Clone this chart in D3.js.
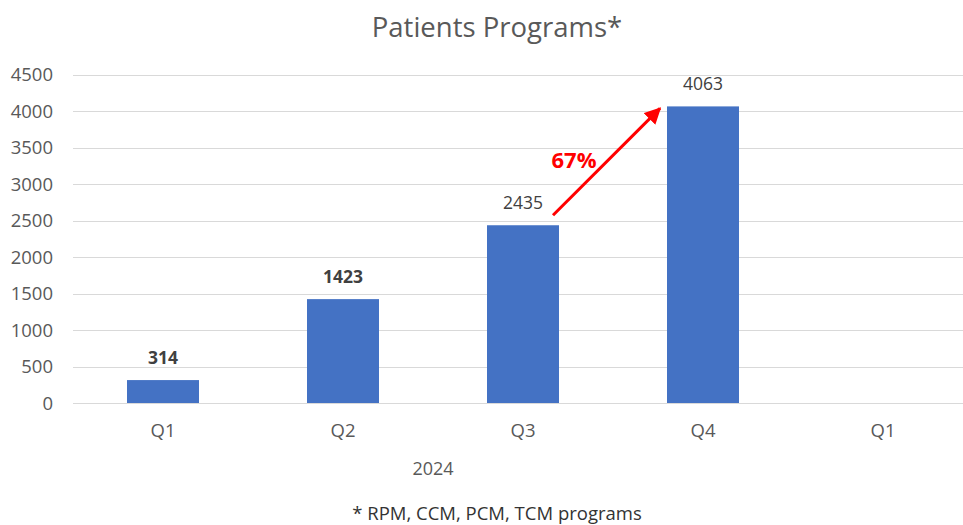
<!DOCTYPE html>
<html><head><meta charset="utf-8">
<script src="https://cdn.jsdelivr.net/npm/d3@7"></script>
<style>body{margin:0;background:#fff}svg{display:block}text{font-family:"Open Sans",sans-serif}</style>
</head><body><svg id="c" width="963" height="525"></svg>
<script>
const categories = ["Q1","Q2","Q3","Q4","Q1 "];
const values = [314, 1423, 2435, 4063, null];
const boldLabels = [true, true, false, false, false];
const yTicks = [0,500,1000,1500,2000,2500,3000,3500,4000,4500];
const title = "Patients Programs*";
const groupLabel = "2024";
const footnote = "* RPM, CCM, PCM, TCM programs";
const growthLabel = "67%";

const svg = d3.select("#c");
const x = d3.scaleBand().domain(categories).range([73, 973]).paddingInner(0.6).paddingOuter(0.3);
const y = d3.scaleLinear().domain([0, 4500]).range([403, 74.5]);

// gridlines
svg.append("g").selectAll("line").data(yTicks).join("line")
  .attr("x1", 73).attr("x2", 963)
  .attr("y1", d => Math.round(y(d)) + 0.5).attr("y2", d => Math.round(y(d)) + 0.5)
  .attr("stroke", "#d9d9d9").attr("stroke-width", 1);

// y labels
const yAxis = d3.axisLeft(y).tickValues(yTicks).tickFormat(d3.format("d")).tickSize(0).tickPadding(0);
const ya = svg.append("g").attr("transform", "translate(53,0)").call(yAxis);
ya.select(".domain").remove();
ya.selectAll("text").attr("font-size", 18.5).attr("fill", "#595959").attr("font-family", '"Open Sans",sans-serif').attr("dy", "0.35em");

// x labels
const xAxis = d3.axisBottom(x).tickSize(0).tickPadding(0);
const xa = svg.append("g").attr("transform", "translate(0,424)").call(xAxis);
xa.select(".domain").remove();
xa.selectAll("text").attr("font-size", 18.5).attr("fill", "#595959").attr("font-family", '"Open Sans",sans-serif');

// bars
const data = categories.map((c, i) => ({c, v: values[i], b: boldLabels[i]})).filter(d => d.v != null);
svg.append("g").selectAll("rect").data(data).join("rect")
  .attr("x", d => x(d.c)).attr("width", x.bandwidth())
  .attr("y", d => y(d.v)).attr("height", d => y(0) - y(d.v))
  .attr("fill", "#4472C4");

// data labels
svg.append("g").selectAll("text").data(data).join("text")
  .attr("x", d => x(d.c) + x.bandwidth()/2).attr("y", d => y(d.v) - 16)
  .attr("text-anchor", "middle").attr("font-size", 17.5)
  .attr("font-weight", d => d.b ? "bold" : "normal")
  .attr("fill", "#404040").text(d => d.v);

// title
svg.append("text").attr("x", 497).attr("y", 37).attr("text-anchor", "middle")
  .attr("font-size", 27.5).attr("fill", "#595959").text(title);

// group label
svg.append("text").attr("x", 433).attr("y", 475).attr("text-anchor", "middle")
  .attr("font-size", 18).attr("fill", "#595959").text(groupLabel);

// footnote
svg.append("text").attr("x", 497).attr("y", 520).attr("text-anchor", "middle")
  .attr("font-size", 18.5).attr("fill", "#333").text(footnote);

// arrow
const q3 = data[2], q4 = data[3];
const x0 = x(q3.c) + x.bandwidth()/2 + 30, y0 = y(q3.v) - 10;
const x1 = x(q4.c) - 7, y1 = y(q4.v) + 2;
const defs = svg.append("defs");
defs.append("marker").attr("id", "ah").attr("viewBox", "0 0 10 10").attr("refX", 9).attr("refY", 5)
  .attr("markerWidth", 5.5).attr("markerHeight", 5.5).attr("orient", "auto").attr("markerUnits", "strokeWidth")
  .append("path").attr("d", "M0,0 L10,5 L0,10 Z").attr("fill", "#ff0000");
svg.append("line").attr("x1", x0).attr("y1", y0).attr("x2", x1).attr("y2", y1)
  .attr("stroke", "#ff0000").attr("stroke-width", 3).attr("marker-end", "url(#ah)");
svg.append("text").attr("x", 574).attr("y", 168).attr("text-anchor", "middle")
  .attr("font-size", 22).attr("font-weight", "bold").attr("fill", "#ff0000").text(growthLabel);
</script></body></html>
